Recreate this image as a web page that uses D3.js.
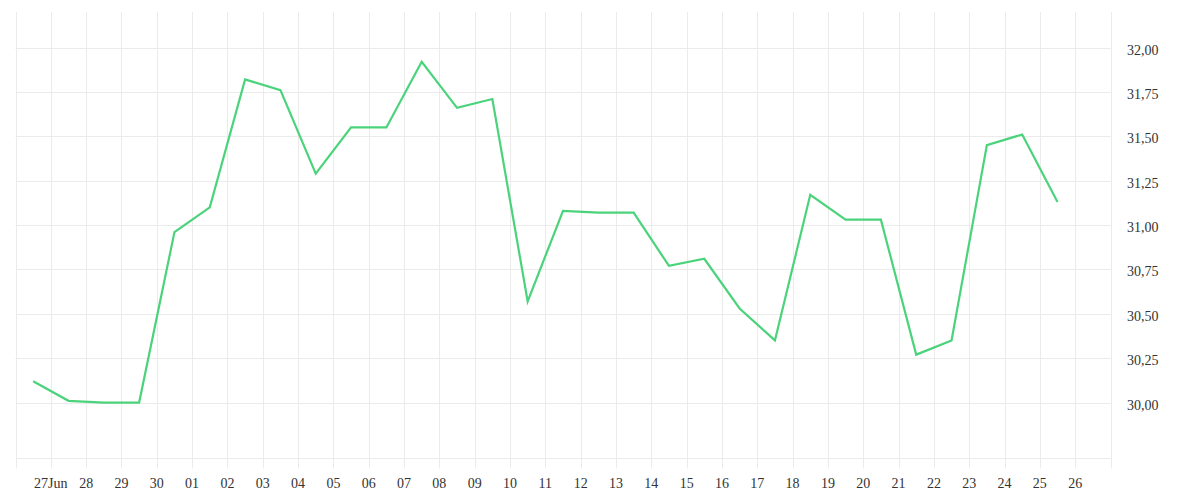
<!DOCTYPE html>
<html>
<head>
<meta charset="utf-8">
<script src="https://cdn.jsdelivr.net/npm/d3@7"></script>
<style>
  html, body { margin: 0; padding: 0; background: #fff; }
  svg { display: block; }
  text { font-family: "Liberation Serif", "DejaVu Serif", serif; font-size: 14px; fill: #333; }
</style>
</head>
<body>
<svg id="chart" width="1200" height="500"></svg>
<script>
// ---- data ----
const dates = [
  "2023-06-26", "2023-06-27", "2023-06-28", "2023-06-29", "2023-06-30",
  "2023-07-01", "2023-07-02", "2023-07-03", "2023-07-04", "2023-07-05",
  "2023-07-06", "2023-07-07", "2023-07-08", "2023-07-09", "2023-07-10",
  "2023-07-11", "2023-07-12", "2023-07-13", "2023-07-14", "2023-07-15",
  "2023-07-16", "2023-07-17", "2023-07-18", "2023-07-19", "2023-07-20",
  "2023-07-21", "2023-07-22", "2023-07-23", "2023-07-24", "2023-07-25"
];
const values = [
  30.12, 30.01, 30.00, 30.00, 30.96,
  31.10, 31.82, 31.76, 31.29, 31.55,
  31.55, 31.92, 31.66, 31.71, 30.57,
  31.08, 31.07, 31.07, 30.77, 30.81,
  30.53, 30.35, 31.17, 31.03, 31.03,
  30.27, 30.35, 31.45, 31.51, 31.13
];
const yTickValues = [30.00, 30.25, 30.50, 30.75, 31.00, 31.25, 31.50, 31.75, 32.00];
const xDomain = ["2023-06-26", "2023-07-27"];
const yDomain = [29.685, 32.2];

// ---- setup ----
const parse = d3.timeParse("%Y-%m-%d");
const svg = d3.select("#chart");
const mLeft = 15.5, mRight = 1110.5, mTop = 12, mBottom = 458.5;

const x = d3.scaleTime().domain(xDomain.map(parse)).range([mLeft, mRight]);
const y = d3.scaleLinear().domain(yDomain).range([mBottom, mTop]);

const locale = d3.formatLocale({decimal: ",", thousands: ".", grouping: [3], currency: ["", "€"]});
const fmtY = locale.format(".2f");

const gridColor = "#ebebeb";

// vertical grid lines (every day), extending below the axis as ticks
const days = d3.timeDay.range(parse(xDomain[0]), d3.timeDay.offset(parse(xDomain[1]), 1));
svg.append("g").selectAll("line").data(days).join("line")
  .attr("x1", d => Math.round(x(d)) + 0.5)
  .attr("x2", d => Math.round(x(d)) + 0.5)
  .attr("y1", mTop).attr("y2", mBottom + 10)
  .attr("stroke", gridColor).attr("stroke-width", 1);

// horizontal grid lines
svg.append("g").selectAll("line").data(yTickValues).join("line")
  .attr("x1", mLeft).attr("x2", mRight)
  .attr("y1", d => Math.round(y(d)) + 0.5)
  .attr("y2", d => Math.round(y(d)) + 0.5)
  .attr("stroke", gridColor);

// bottom axis line
svg.append("line")
  .attr("x1", mLeft).attr("x2", mRight)
  .attr("y1", mBottom).attr("y2", mBottom)
  .attr("stroke", gridColor);

// x labels
const labelDays = days.slice(1, days.length - 1);
svg.append("g").selectAll("text").data(labelDays).join("text")
  .attr("x", d => x(d))
  .attr("y", 488)
  .attr("text-anchor", "middle")
  .text((d, i) => i === 0 ? d3.timeFormat("%d")(d) + d3.timeFormat("%b")(d) : d3.timeFormat("%d")(d));

// y labels
svg.append("g").selectAll("text").data(yTickValues).join("text")
  .attr("x", 1127)
  .attr("y", d => y(d) + 7)
  .attr("text-anchor", "start")
  .text(d => fmtY(d));

// line
const data = dates.map((d, i) => ({date: d3.timeHour.offset(parse(d), 12), value: values[i]}));
const line = d3.line().x(d => x(d.date)).y(d => y(d.value));
svg.append("path")
  .datum(data)
  .attr("fill", "none")
  .attr("stroke", "#4bd37b")
  .attr("stroke-width", 2.2)
  .attr("stroke-linejoin", "miter")
  .attr("d", line);
</script>
</body>
</html>
